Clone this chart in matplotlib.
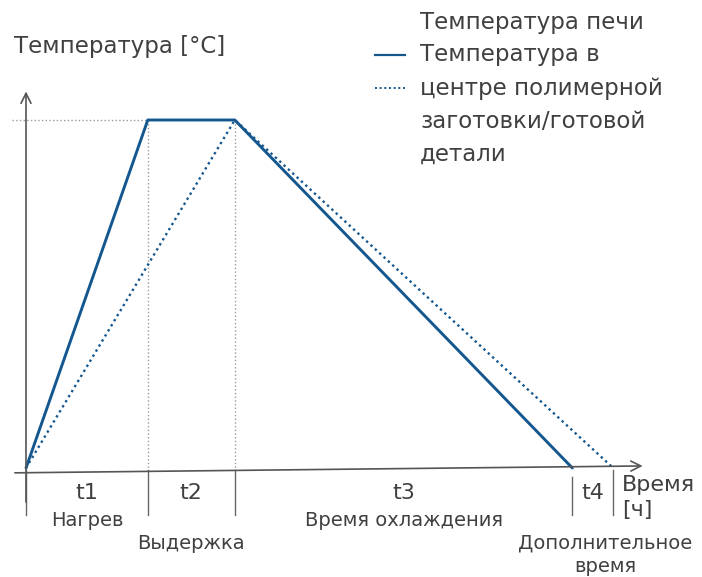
import matplotlib.pyplot as plt

# =========================
# Data (time in h, temperature in %)
# =========================
oven_time = [0, 1.4, 2.4, 6.28]
oven_temp = [0, 100, 100, 0]
part_time = [0, 2.4, 6.75]
part_temp = [0, 100, 0]
bounds = [0, 1.4, 2.4, 6.28, 6.75]
t_labels = ["t1", "t2", "t3", "t4"]
stage_labels = ["Нагрев", "Выдержка", "Время охлаждения", "Дополнительное", "время"]

blue = "#14578f"
grey = "#404040"
plt.rcParams['font.family'] = ['DejaVu Sans']

# =========================
# Figure
# =========================
fig = plt.figure(figsize=(7.02, 5.77), dpi=100)
ax = fig.add_axes([0, 0, 1, 1])
ax.set_xlim(-26 / 87, 676 / 87)
ax.set_ylim(-109 / 3.48, 468 / 3.48)
ax.axis("off")

# axes arrows
ax.annotate("", xy=(0, 109), xytext=(0, -10.6),
            arrowprops=dict(arrowstyle="->", color="#555555", lw=1.2, mutation_scale=18))
ax.annotate("", xy=(7.12, 0.6), xytext=(-0.16, -1.4),
            arrowprops=dict(arrowstyle="->", color="#555555", lw=1.2, mutation_scale=18))

# guide lines
ax.plot([-0.16, oven_time[1]], [100, 100], ls=":", color="#999999", lw=1)
ax.plot([oven_time[1], oven_time[1]], [100, 0], ls=":", color="#999999", lw=1)
ax.plot([oven_time[2], oven_time[2]], [100, 0], ls=":", color="#999999", lw=1)

# stage ticks
for i, b in enumerate(bounds):
    top = -2.6 if i == 3 else -0.5
    ax.plot([b, b], [top, -13.5], color="#666666", lw=1)

# curves
ax.plot(oven_time, oven_temp, color=blue, lw=2.1, solid_capstyle="round")
ax.plot(part_time, part_temp, color=blue, lw=1.7, ls=(0, (1, 1.5)))

# stage labels
for i in range(4):
    mid = (bounds[i] + bounds[i + 1]) / 2
    ax.text(mid, -7.2, t_labels[i], ha="center", va="center", fontsize=16, color=grey)
ax.text(0.7, -15.2, stage_labels[0], ha="center", va="center", fontsize=14, color=grey)
ax.text(1.9, -21.6, stage_labels[1], ha="center", va="center", fontsize=14, color=grey)
ax.text(4.34, -15.2, stage_labels[2], ha="center", va="center", fontsize=14, color=grey)
ax.text(6.66, -21.6, stage_labels[3], ha="center", va="center", fontsize=14, color=grey)
ax.text(6.66, -28.2, stage_labels[4], ha="center", va="center", fontsize=14, color=grey)

# axis titles
ax.text(6.85, -5.0, "Время", ha="left", va="center", fontsize=16, color=grey)
ax.text(6.85, -12.2, "[ч]", ha="left", va="center", fontsize=16, color=grey)
fig.text(14 / 702, 1 - 46 / 577, "Температура [°C]", ha="left", va="center", fontsize=16.5, color=grey)

# legend (manual)
leg_lines = ["Температура печи", "Температура в", "центре полимерной",
             "заготовки/готовой", "детали"]
for k, s in enumerate(leg_lines):
    fig.text(420 / 702, 1 - (22 + 33 * k) / 577, s, ha="left", va="center", fontsize=16.5, color=grey)
fig.add_artist(plt.Line2D([375 / 702, 405 / 702], [1 - 55 / 577] * 2, color=blue, lw=1.6))
fig.add_artist(plt.Line2D([375 / 702, 405 / 702], [1 - 88 / 577] * 2, color=blue, lw=1.4,
                          ls=(0, (1, 1.4))))

plt.savefig("out.png", dpi=100)
